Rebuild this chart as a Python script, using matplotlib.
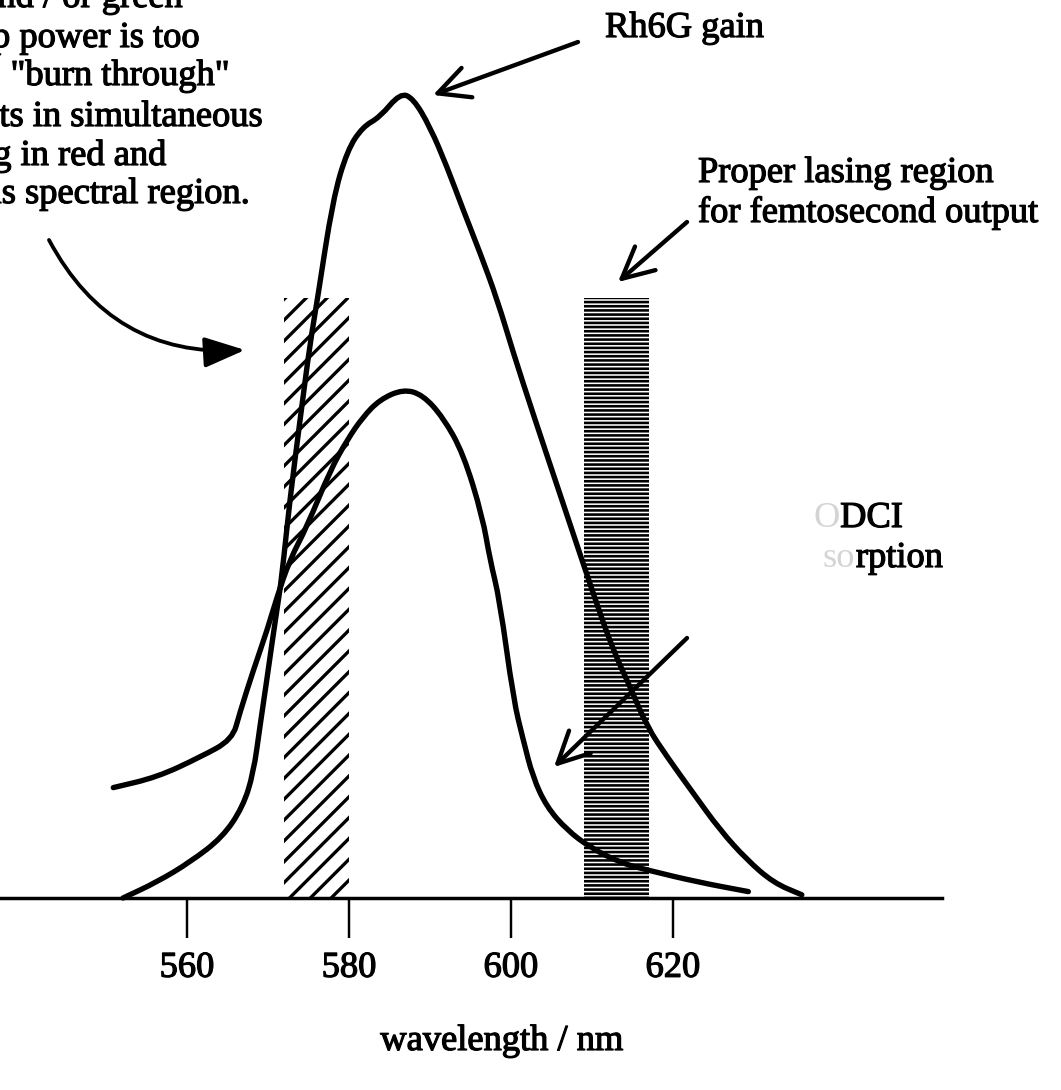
import matplotlib.pyplot as plt
import matplotlib.patheffects as pe
from matplotlib.path import Path
from matplotlib.patches import PathPatch

plt.rcParams['font.family'] = ['Liberation Serif', 'DejaVu Serif']

# Rh6G gain curve (wavelength in nm, arbitrary units)
gain_nm = [552.1, 556.3, 560.4, 564.4, 566.9, 568.2, 569.0, 569.9, 570.5, 571.1,
           571.7, 572.7, 574.0, 575.2, 576.1, 578.0, 579.8, 581.7, 583.8, 586.3,
           587.9, 590.0, 592.1, 594.1, 596.2, 598.3, 600.3, 602.7, 606.7, 610.4,
           612.6, 614.7, 616.8, 619.3, 622.5, 625.8, 629.1, 632.4, 635.9]
gain = [0.000, 0.020, 0.045, 0.076, 0.114, 0.156, 0.214, 0.276, 0.319, 0.360,
        0.401, 0.498, 0.601, 0.694, 0.748, 0.873, 0.935, 0.964, 0.976, 1.006,
        1.000, 0.964, 0.914, 0.860, 0.806, 0.748, 0.681, 0.606, 0.485, 0.373,
        0.310, 0.264, 0.214, 0.176, 0.131, 0.085, 0.048, 0.019, 0.004]

# DODCI absorption curve
abs_nm = [550.9, 556.3, 561.6, 565.6, 566.5, 568.2, 569.9, 571.1, 572.7, 574.8,
          577.7, 579.8, 581.7, 583.8, 586.7, 589.1, 591.6, 594.1, 596.5, 597.4,
          598.6, 600.3, 601.5, 602.7, 604.4, 606.9, 609.8, 613.5, 616.8, 623.0,
          629.3]
absorb = [0.138, 0.151, 0.176, 0.198, 0.231, 0.285, 0.335, 0.376, 0.423, 0.464,
          0.535, 0.573, 0.601, 0.623, 0.636, 0.629, 0.601, 0.556, 0.476, 0.423,
          0.373, 0.248, 0.198, 0.151, 0.114, 0.085, 0.063, 0.044, 0.035, 0.020,
          0.008]

# spectral windows: burn-through (left) and femtosecond lasing (right)
band_left = [572, 609]
band_width = [8, 8]
band_height = [0.75, 0.75]

ticks = [560, 580, 600, 620]
tick_labels = ['560', '580', '600', '620']

W, H, DPI = 1061, 1090, 125
fig = plt.figure(figsize=(W / DPI, H / DPI), dpi=DPI)
ax = fig.add_axes([0, 0, 1, 1])
ax.set_xlim(560 - 187 / 8.1, 560 + (W - 187) / 8.1)
ax.set_ylim(-(H - 898) / 800, 898 / 800)

ink = [pe.withStroke(linewidth=0.7, foreground='black')]


def fp(x, y):
    # pixel position (from top-left) -> figure fraction
    return (x / W, 1 - y / H)


def label(x, y, s, ha='left', color='black'):
    fig.text(*fp(x, y), s, ha=ha, va='baseline', fontsize=21, color=color,
             path_effects=ink if color == 'black' else None)


def smooth_path(xs, ys):
    # quadratic segments between midpoints, each bent towards its sample
    pts = list(zip(xs, ys))
    mids = [((x0 + x1) / 2, (y0 + y1) / 2) for (x0, y0), (x1, y1) in zip(pts, pts[1:])]
    verts = [pts[0], mids[0]]
    codes = [Path.MOVETO, Path.LINETO]
    for p, m in zip(pts[1:-1], mids[1:]):
        verts += [p, m]
        codes += [Path.CURVE3, Path.CURVE3]
    verts.append(pts[-1])
    codes.append(Path.LINETO)
    return Path(verts, codes)


with plt.rc_context({'hatch.linewidth': 1.9}):
    ax.bar(band_left[0], band_height[0], width=band_width[0], align='edge',
           color='none', edgecolor='black', linewidth=0, hatch='//', zorder=1)
with plt.rc_context({'hatch.linewidth': 1.5}):
    ax.bar(band_left[1], band_height[1], width=band_width[1], align='edge',
           color='none', edgecolor='black', linewidth=0, hatch='-----', zorder=1)

for xs, ys in [(gain_nm, gain), (abs_nm, absorb)]:
    ax.add_patch(PathPatch(smooth_path(xs, ys), fill=False, edgecolor='black',
                           lw=3.1, capstyle='round', joinstyle='round', zorder=3))

for s in ['left', 'right', 'top']:
    ax.spines[s].set_visible(False)
ax.spines['bottom'].set_position(('data', 0))
ax.spines['bottom'].set_bounds(ax.get_xlim()[0], 653.2)
ax.spines['bottom'].set_linewidth(2.0)
ax.set_yticks([])
ax.set_xticks(ticks)
ax.set_xticklabels(tick_labels)
ax.tick_params(axis='x', direction='out', length=23, width=1.4, pad=8,
               labelsize=21)
for t in ax.get_xticklabels():
    t.set_path_effects(ink)

label(502, 1050, 'wavelength / nm', ha='center')

# note at top left, runs off the left edge
note = [('and / or green', 183, 7),
        ('pump power is too', 200, 47),
        ('"burn through"', 230, 85),
        ('results in simultaneous', 263, 126),
        ('lasing in red and', 167, 165),
        ('this spectral region.', 250, 203)]
for txt, xr, yb in note:
    label(xr, yb, txt, ha='right')

label(605, 37, 'Rh6G gain')
label(698, 182, 'Proper lasing region')
label(698, 222, 'for femtosecond output')

label(840, 527, 'O', ha='right', color='#d4d4d4')
label(903, 527, 'DCI', ha='right')
label(855, 567, 'so', ha='right', color='#d4d4d4')
label(943, 567, 'rption', ha='right')

straight = dict(arrowstyle='->,head_length=0.9,head_width=0.45', lw=2.5,
                color='black', mutation_scale=20, shrinkA=0, shrinkB=0)
for tip, tail in [((433, 95), (578, 42)),
                  ((618, 282), (687, 222)),
                  ((554, 767), (687, 638))]:
    ax.annotate('', xy=fp(*tip), xytext=fp(*tail), xycoords='figure fraction',
                textcoords='figure fraction', arrowprops=straight)

curved = dict(arrowstyle='-|>,head_length=0.8,head_width=0.3', lw=2.2,
              color='black', mutation_scale=25, shrinkA=0, shrinkB=0,
              connectionstyle='arc3,rad=0.32')
ax.annotate('', xy=fp(245, 350), xytext=fp(49, 240), xycoords='figure fraction',
            textcoords='figure fraction', arrowprops=curved)

fig.savefig('out.png', dpi=DPI, facecolor='white')
